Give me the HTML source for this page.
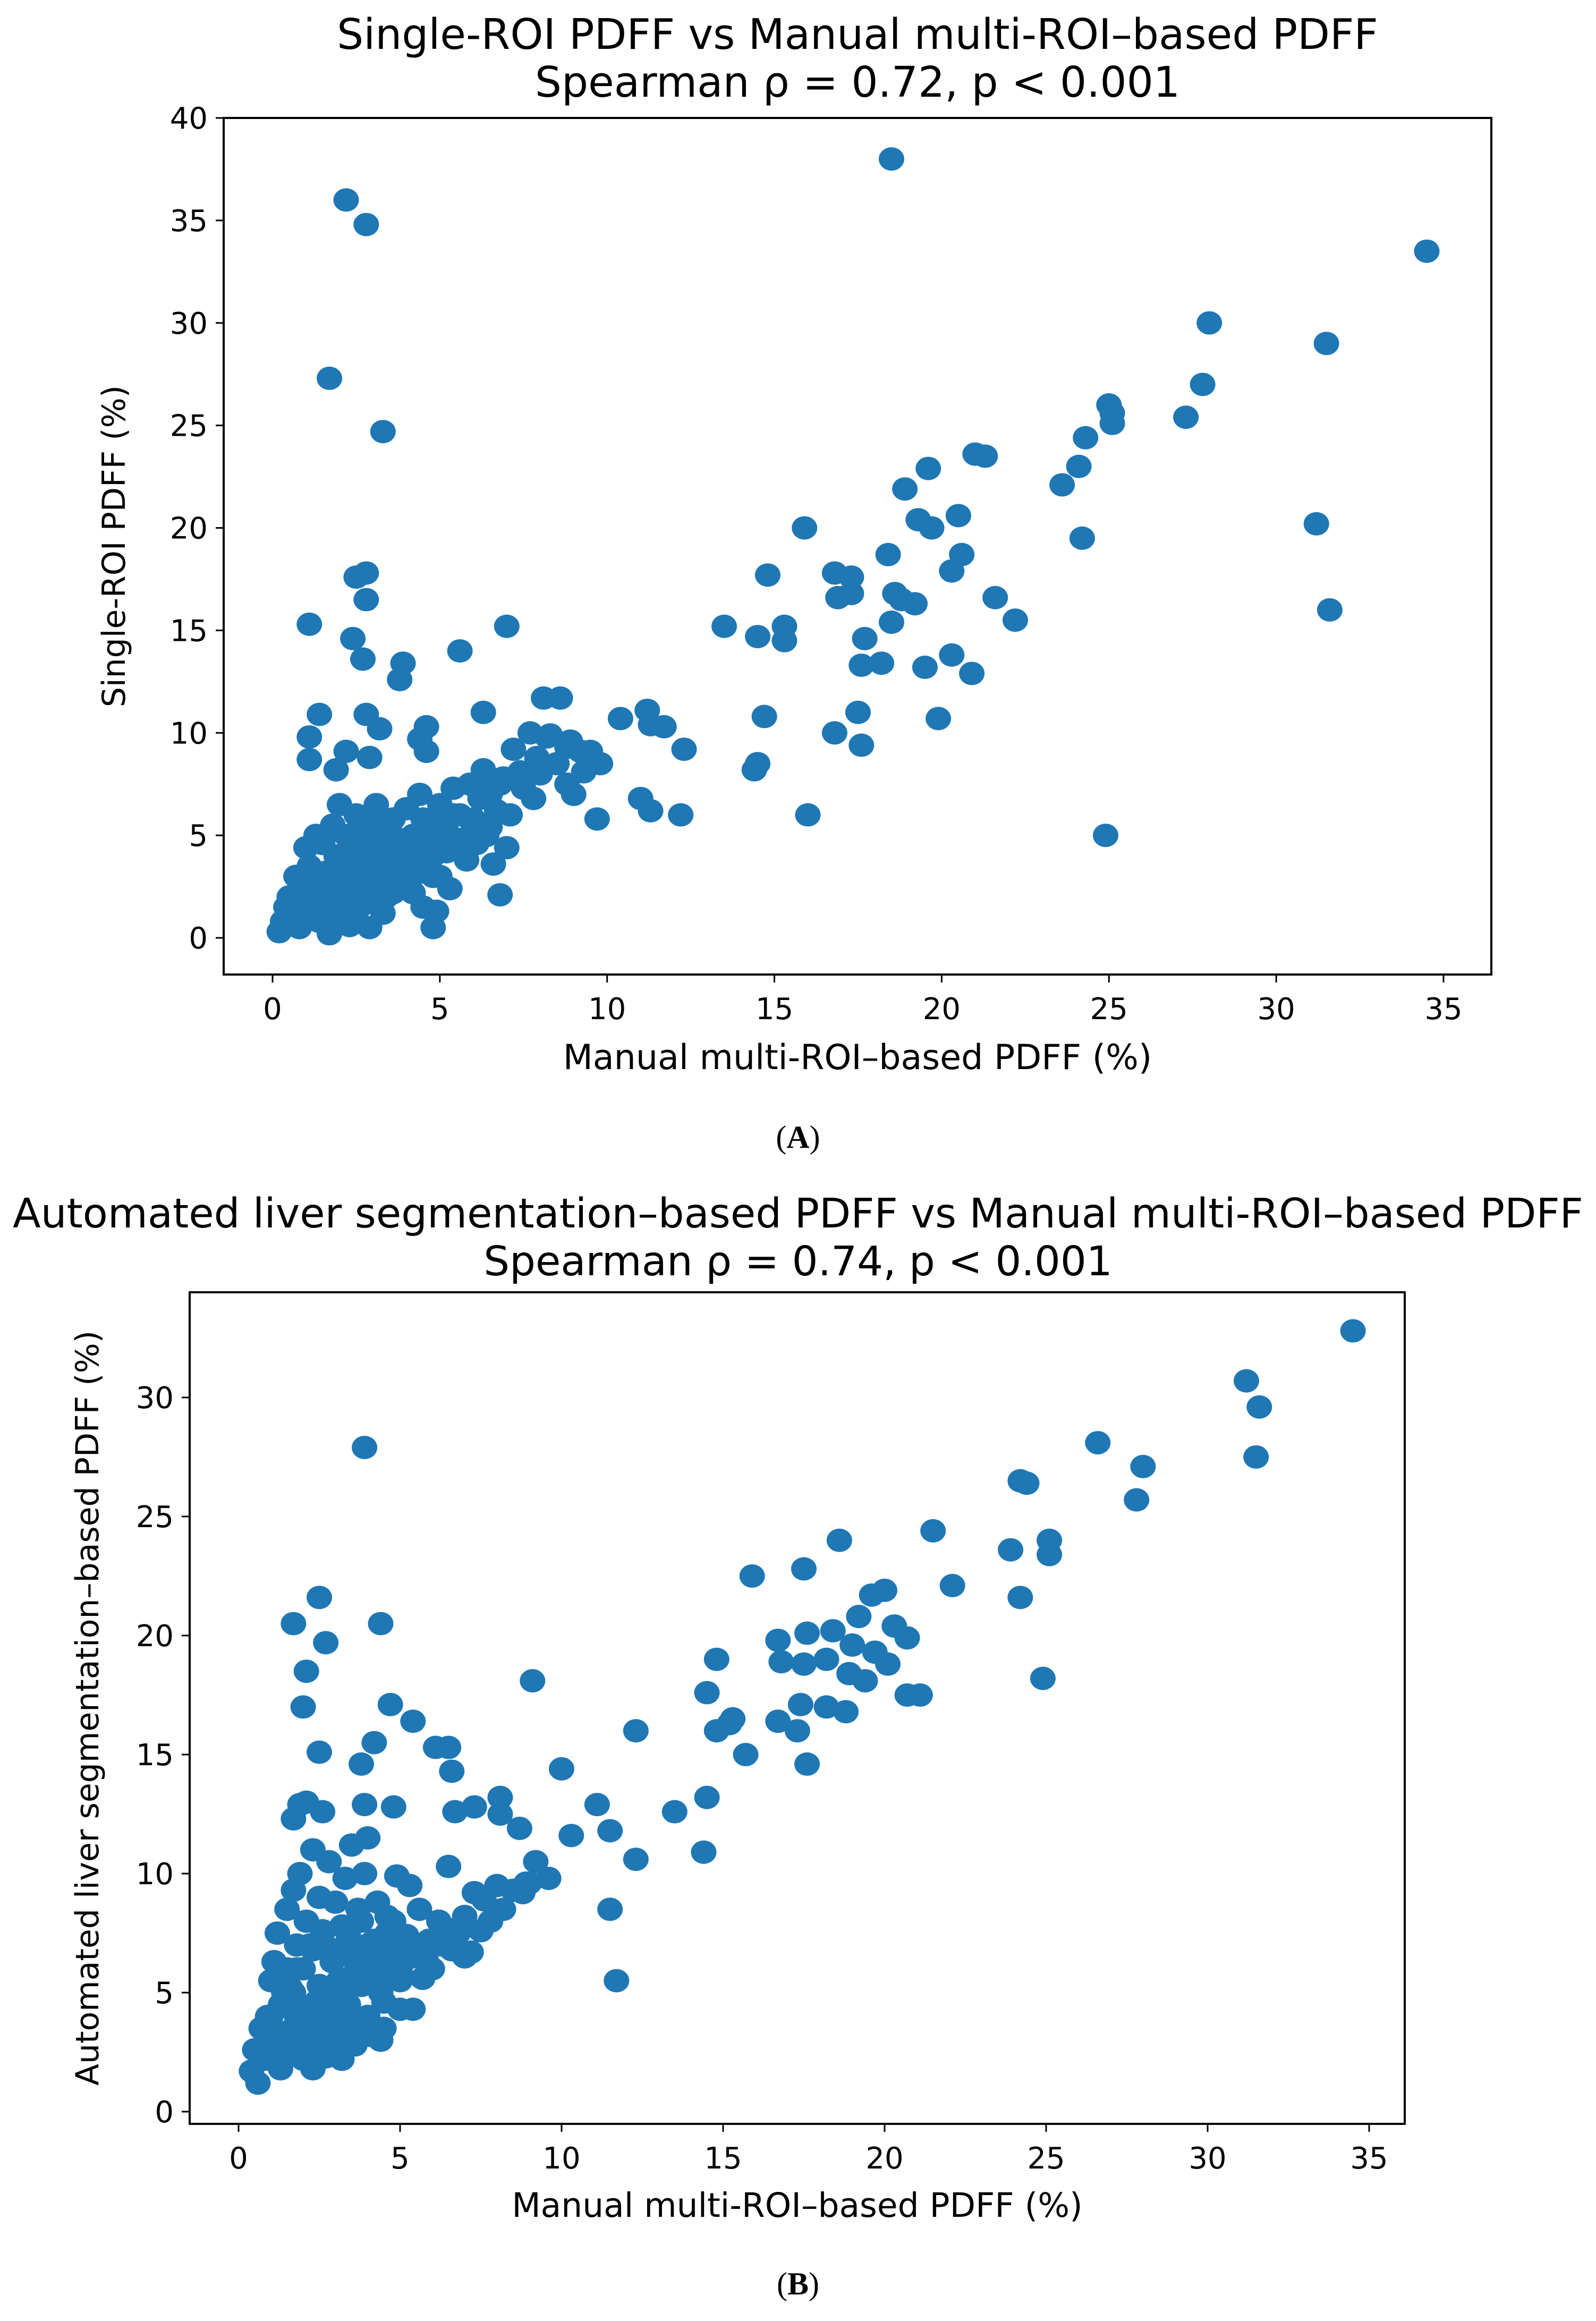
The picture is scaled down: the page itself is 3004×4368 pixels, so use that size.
<!DOCTYPE html>
<html><head><meta charset="utf-8">
<style>
html,body{margin:0;padding:0;background:#fff;}
svg{display:block;}
text{font-family:"DejaVu Sans","Liberation Sans",sans-serif;fill:#000;}
</style></head>
<body>
<svg id="fig" width="3004" height="4368" viewBox="0 0 3004 4368" xmlns="http://www.w3.org/2000/svg">
<rect width="3004" height="4368" fill="#fff"/>
<g id="chartA"></g>
<g id="chartB"></g>
<text x="1502" y="2160" text-anchor="middle" style="font-family:'Liberation Serif',serif;font-size:60px;">(<tspan font-weight="bold">A</tspan>)</text>
<text x="1502" y="4318" text-anchor="middle" style="font-family:'Liberation Serif',serif;font-size:60px;">(<tspan font-weight="bold">B</tspan>)</text>
</svg>
<script>
// ---- Chart A data ----
const xTicksA = [0,5,10,15,20,25,30,35];
const yTicksA = [0,5,10,15,20,25,30,35,40];
const manualA = [2.2,2.8,1.7,3.3,18.5,34.5,31.5,28,27.8,27.3,25,25.1,25.1,24.3,24.1,23.6,24.2,31.2,31.6,24.9,16,21.3,21,19.6,18.9,19.3,19.7,20.5,15.9,16.8,17.3,18.4,18.6,18.8,19.2,20.3,20.6,21.6,22.2,18.5,19.5,20.3,20.9,19.9,17.7,17.6,18.2,17.5,16.8,17.6,16.9,17.3,15.3,15.3,14.8,14.5,13.5,14.5,14.4,14.7,12.3,12.2,11.3,11,11.7,11.3,11.2,10.4,9.7,9.8,9.5,9.3,8.8,8.6,8.1,7.7,7,6.3,5.6,4.6,4.4,4.6,3.9,3.8,2.8,2.5,2.8,2.4,2.7,1.1,1.4,1.1,1.1,2.8,2.2,3.2,1.9,2.9,
0.2,0.3,0.4,0.5,0.6,0.7,0.8,0.9,1,1,1.1,1.2,1.3,1.4,1.5,1.5,1.6,1.7,1.8,1.8,1.9,2,2,2.1,2.2,2.2,2.3,2.4,2.5,2.5,2.6,2.7,2.8,2.9,3,3,3.1,3.2,3.3,3.3,3.4,3.5,3.6,3.7,3.8,3.9,4,4,4.2,4.3,4.4,4.5,4.5,4.6,4.8,4.9,5,5,5.2,5.3,5.4,5.5,5.6,5.8,5.9,6,6.1,6.2,6.3,6.4,6.5,6.6,6.7,6.8,6.9,7,7.1,7.2,7.5,7.8,8,8.2,8.5,8.8,9,4.9,5.4,
1.2,1.6,2,2.4,2.8,3.2,3.6,4,4.4,2.6,3,3.4,3.8,4.2,4.6,5,5.4,1.8,2.2,2.6,3,3.4,3.8,4.2,1.4,1.1,0.8,6.2,6.8,7.4,7.9,8.3,8.9,9.2];
const singleA = [36,34.8,27.3,24.7,38,33.5,29,30,27,25.4,26,25.6,25.1,24.4,23,22.1,19.5,20.2,16,5,6,23.5,23.6,22.9,21.9,20.4,20,20.6,20,17.8,17.6,18.7,16.8,16.5,16.3,17.9,18.7,16.6,15.5,15.4,13.2,13.8,12.9,10.7,14.6,13.3,13.4,11,10,9.4,16.6,16.8,15.2,14.5,17.7,14.7,15.2,8.5,8.2,10.8,9.2,6,6.2,6.8,10.3,10.4,11.1,10.7,5.8,8.5,9.1,8.1,9.3,11.7,11.7,10,15.2,11,14,10.3,9.7,9.1,13.4,12.6,17.8,17.6,16.5,14.6,13.6,15.3,10.9,9.8,8.7,10.9,9.1,10.2,8.2,8.8,
0.3,0.8,1.5,2,1,3,0.5,2.5,1.2,4.4,3.5,2,5,0.8,3,4.6,1.8,0.2,2.6,5.5,4,1,6.5,3.2,2,5,0.6,4.2,6,2.8,1.5,3.6,5.3,0.5,2.3,4.5,6.5,3,1.2,5,2,4,5.8,3.3,4.8,2.6,6.3,3.8,5,4.3,7,1.5,5.8,3.5,0.5,4.6,6.5,3,5.2,2.4,7.3,4.8,6,3.8,7.5,5.5,4.6,6.8,8.2,5,7,3.6,6.2,2.1,7.8,4.4,6,9.2,7.3,6.8,8,9.8,8.5,7.5,7,1.3,6,
1,1.4,1.6,1.2,1.8,2,2.4,2.8,3.2,2.2,3,3.6,4.2,4.8,5.2,5.6,6,3,3.6,4.6,5.8,5.2,3,2.2,2.6,2.2,1.6,7.2,7.5,8.1,8.8,9.9,9.6,9.1];
const clusterXA = [
0.6,1.0,1.4,1.8,2.2,2.6,3.0,3.4,3.8,4.2,
1.2,1.6,2.0,2.4,2.8,3.2,3.6,4.0,4.4,4.8,
2.0,2.4,2.8,3.2,3.6,4.0,4.4,4.8,5.2,5.6,
3.0,3.5,4.0,4.5,5.0,5.5,6.0,6.5,1.5,2.5];
const clusterYA = [
1.0,1.4,1.2,2.0,1.6,2.4,2.0,2.8,2.4,3.2,
2.6,3.2,3.8,3.0,4.4,3.6,4.8,4.2,5.0,4.0,
1.2,1.8,2.6,3.6,2.2,3.0,3.8,3.0,4.2,4.8,
4.0,3.2,4.6,4.4,5.2,4.6,5.8,5.4,2.0,0.8];

// ---- Chart B data ----
const xTicksB = [0,5,10,15,20,25,30,35];
const yTicksB = [0,5,10,15,20,25,30];
const manualB = [34.5,31.2,31.6,31.5,26.6,28,27.8,24.2,24.4,25.1,25.1,23.9,24.2,24.9,22.1,21.5,18.6,17.5,15.9,19.6,20,19.2,16.7,17.6,18.4,19,19.7,20.3,20.7,16.8,17.5,18.2,18.9,19.4,20.1,20.7,21.1,18.8,18.2,17.4,17.3,17.6,16.7,15.7,15.2,14.5,14.8,14.8,15.3,14.5,14.4,13.5,12.3,12.3,11.5,11.1,10.3,11.7,11.5,10,9.1,9.6,9.2,8.9,8.1,8.1,8.7,7.3,6.7,6.5,6.1,6.6,5.4,4.7,4.4,3.9,2.5,1.7,2.7,2.1,2,2.5,3.8,4.2,2.1,1.9,1.7,2.6,3.5,4,4.8,3.9,
0.4,0.6,0.5,0.7,0.8,0.9,1,1,1.1,1.2,1.2,1.3,1.4,1.5,1.5,1.6,1.7,1.7,1.8,1.9,1.9,2,2,2.1,2.2,2.3,2.3,2.4,2.5,2.5,2.6,2.7,2.8,2.8,2.9,3,3,3.1,3.2,3.2,3.3,3.4,3.5,3.6,3.7,3.8,3.9,4,4,4.2,4.3,4.4,4.5,4.6,4.8,4.9,5,5,5.2,5.4,5.4,5.6,5.7,5.9,6,6.2,6.3,6.5,6.6,6.8,7,7,7.3,7.5,7.6,7.8,8,8.2,8.5,8.8,9,7.2,6.4,5.8,3.6,4.1,2.3,1.3,2,
1.0,1.4,1.8,2.2,2.6,3.0,3.4,3.8,4.2,1.6,2.4,3.2,4.4,4.8,5.3];
const autoB = [32.8,30.7,29.6,27.5,28.1,27.1,25.7,26.5,26.4,24,23.4,23.6,21.6,18.2,22.1,24.4,24,22.8,22.5,21.7,21.9,20.8,19.8,20.1,20.2,19.6,19.3,20.4,19.9,18.9,18.8,19,18.4,18.1,18.8,17.5,17.5,16.8,17,17.1,16,14.6,16.4,15,16.3,17.6,19,16,16.5,13.2,10.9,12.6,16,10.6,11.8,12.9,11.6,5.5,8.5,14.4,18.1,9.8,10.5,9.6,13.2,12.5,11.9,12.8,12.6,15.3,15.3,14.3,16.4,17.1,20.5,27.9,21.6,20.5,19.7,18.5,17,15.1,14.6,15.5,13,12.9,12.3,12.6,11.2,11.5,12.8,12.9,
1.7,1.2,2.6,3.5,2.2,4,5.5,3,6.3,2.3,7.5,4.5,3.3,6,8.5,2.5,9.3,5,7,3.5,10,6,2.2,8,4.3,11,6.8,3,9,5.3,7.5,2.3,10.5,4.2,6.3,8.8,3.3,5.5,2.2,7.8,9.8,4.5,6.5,3.5,8.5,5.3,10,4,7,6,8.8,5,3.5,7.5,6.2,9.9,5.5,4.3,7,6.5,4.3,8.5,5.6,7.2,6,8,7,10.3,6.8,7.5,8.2,6.5,9.2,7.6,8.9,8,9.5,8.5,9.3,9.2,9.6,6.7,7.7,6.4,2.8,3.2,1.8,1.8,2.7,
2.5,3.2,4.0,3.6,4.4,5.0,5.6,6.2,6.8,5.2,4.6,4.0,3.0,8.0,9.5];
const clusterXB = [
0.8,1.2,1.6,2.0,2.4,2.8,3.2,3.6,4.0,4.4,
1.0,1.4,1.8,2.2,2.6,3.0,3.4,3.8,4.2,4.6,
1.6,2.0,2.4,2.8,3.2,3.6,4.0,4.4,4.8,5.2,
5.0,5.5,6.0,6.5,7.0,3.0,3.5,2.5,1.5,4.5];
const clusterYB = [
2.4,2.8,3.4,3.8,4.4,4.8,5.4,5.8,6.4,6.8,
4.0,5.0,6.0,7.0,7.6,6.8,7.4,8.0,7.2,8.2,
2.6,3.2,3.8,4.4,5.0,5.6,6.2,5.6,6.6,7.4,
6.0,6.6,7.0,7.4,7.8,3.0,4.0,2.6,4.4,4.6];

const NS='http://www.w3.org/2000/svg';
const COLOR='#1f77b4';
function mk(tag, attrs, parent){
  const e=document.createElementNS(NS,tag);
  for(const k in attrs) e.setAttribute(k,attrs[k]);
  parent.appendChild(e); return e;
}
function drawChart(g, cfg){
  const sx = v => cfg.x0px + v*(cfg.x35px - cfg.x0px)/35;
  const sy = v => cfg.y0px - v*(cfg.y0px - cfg.yTopPx)/cfg.yTopVal;
  cfg.titles.forEach((t,i)=>{
    const tt=mk('text',{x:cfg.titleX,y:cfg.titleY[i],'text-anchor':'middle','font-size':cfg.titleSize},g);
    
    
    tt.textContent=t;
  });
  const pg=mk('g',{},g);
  
  
  cfg.series.forEach(([xs,ys])=>{
    const n=Math.min(xs.length,ys.length);
    for(let i=0;i<n;i++){
      const c=mk('ellipse',{cx:sx(xs[i]),cy:sy(ys[i]),rx:24,ry:22,fill:COLOR},pg);
      
      
    }
  });
  const fr=mk('rect',{x:cfg.left,y:cfg.top,width:cfg.right-cfg.left,height:cfg.bottom-cfg.top,fill:'none',stroke:'#000','stroke-width':4},g);
  
  
  cfg.xTicks.forEach(v=>{
    const X=sx(v);
    const l=mk('line',{x1:X,x2:X,y1:cfg.bottom,y2:cfg.bottom+15,stroke:'#000','stroke-width':3},g);
    
    
    const t=mk('text',{x:X,y:cfg.bottom+84,'text-anchor':'middle','font-size':56},g);
    
    
    t.textContent=v;
  });
  cfg.yTicks.forEach(v=>{
    const Y=sy(v);
    const l=mk('line',{x1:cfg.left-15,x2:cfg.left,y1:Y,y2:Y,stroke:'#000','stroke-width':3},g);
    
    
    const t=mk('text',{x:cfg.left-30,y:Y+20,'text-anchor':'end','font-size':56},g);
    
    
    t.textContent=v;
  });
  const xl=mk('text',{x:(cfg.left+cfg.right)/2,y:cfg.xLabelY,'text-anchor':'middle','font-size':cfg.xLabelSize},g);
  
  
  xl.textContent=cfg.xLabel;
  const yl=mk('text',{x:0,y:0,'text-anchor':'middle','font-size':60,transform:`translate(${cfg.yLabelX},${(cfg.top+cfg.bottom)/2}) rotate(-90)`},g);
  
  
  yl.textContent=cfg.yLabel;
}
drawChart(document.getElementById('chartA'),{
  series:[[manualA,singleA],[clusterXA,clusterYA]], xTicks:xTicksA, yTicks:yTicksA,
  left:421,right:2807,top:222,bottom:1834,
  x0px:513,x35px:2717,y0px:1765,yTopPx:222,yTopVal:40,
  titles:['Single-ROI PDFF vs Manual multi-ROI\u2013based PDFF','Spearman \u03c1 = 0.72, p < 0.001'],
  titleX:1614,titleY:[92,182],titleSize:79,
  xLabel:'Manual multi-ROI\u2013based PDFF (%)',xLabelY:2012,xLabelSize:65,
  yLabel:'Single-ROI PDFF (%)',yLabelX:235
});
drawChart(document.getElementById('chartB'),{
  series:[[manualB,autoB],[clusterXB,clusterYB]], xTicks:xTicksB, yTicks:yTicksB,
  left:357,right:2644,top:2432,bottom:3997,
  x0px:449,x35px:2577,y0px:3974,yTopPx:2630,yTopVal:30,
  titles:['Automated liver segmentation\u2013based PDFF vs Manual multi-ROI\u2013based PDFF','Spearman \u03c1 = 0.74, p < 0.001'],
  titleX:1502,titleY:[2310,2400],titleSize:77,
  xLabel:'Manual multi-ROI\u2013based PDFF (%)',xLabelY:4172,xLabelSize:63,
  yLabel:'Automated liver segmentation\u2013based PDFF (%)',yLabelX:185
});
</script>
</body></html>
